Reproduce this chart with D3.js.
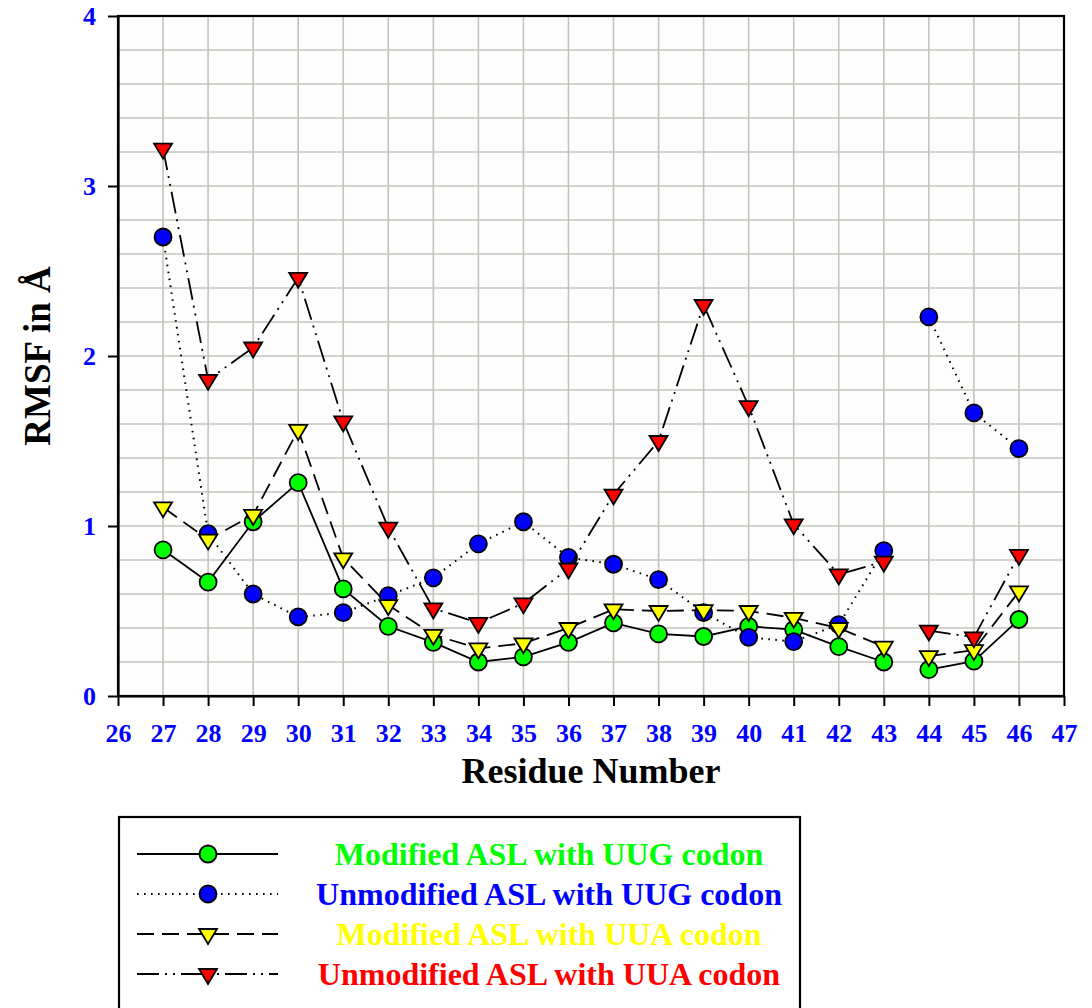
<!DOCTYPE html>
<html>
<head>
<meta charset="utf-8">
<script src="https://cdn.jsdelivr.net/npm/d3@7"></script>
<style>
  body { margin: 0; background: #fff; }
  svg { display: block; }
  text { font-family: "Liberation Serif", "Times New Roman", serif; font-weight: bold; }
</style>
</head>
<body>
<svg id="chart" width="1092" height="1008"></svg>
<script>
// Residue numbers along the x axis
const residues = [27, 28, 29, 30, 31, 32, 33, 34, 35, 36, 37, 38, 39, 40, 41, 42, 43, 44, 45, 46];
// The traces are not joined across this residue gap
const breakAfter = 43;

// RMSF (Å) per residue
const modifiedUUG   = [0.86, 0.67, 1.025, 1.255, 0.63, 0.41, 0.315, 0.20, 0.23, 0.315, 0.43, 0.365, 0.35, 0.41, 0.39, 0.29, 0.20, 0.155, 0.205, 0.45];
const unmodifiedUUG = [2.70, 0.955, 0.60, 0.465, 0.49, 0.59, 0.695, 0.895, 1.025, 0.815, 0.775, 0.685, 0.49, 0.345, 0.32, 0.42, 0.855, 2.23, 1.665, 1.455];
const modifiedUUA   = [1.11, 0.92, 1.065, 1.565, 0.81, 0.535, 0.36, 0.28, 0.31, 0.40, 0.51, 0.50, 0.505, 0.50, 0.46, 0.40, 0.29, 0.235, 0.27, 0.615];
const unmodifiedUUA = [3.22, 1.86, 2.05, 2.46, 1.615, 0.99, 0.515, 0.43, 0.545, 0.75, 1.185, 1.50, 2.30, 1.705, 1.01, 0.715, 0.79, 0.385, 0.345, 0.83];

const seriesNames = [
  "Modified ASL with UUG codon",
  "Unmodified ASL with UUG codon",
  "Modified ASL with UUA codon",
  "Unmodified ASL with UUA codon"
];

const xTicks = [26, 27, 28, 29, 30, 31, 32, 33, 34, 35, 36, 37, 38, 39, 40, 41, 42, 43, 44, 45, 46, 47];
const yTicks = [0, 1, 2, 3, 4];
const yGridStep = 0.2;

const series = [
  { name: seriesNames[0], values: modifiedUUG,   fill: "#00ff00", marker: "circle",   dash: null },
  { name: seriesNames[1], values: unmodifiedUUG, fill: "#0000ff", marker: "circle",   dash: "1.6,5.4" },
  { name: seriesNames[2], values: modifiedUUA,   fill: "#ffff00", marker: "triangle", dash: "17,8" },
  { name: seriesNames[3], values: unmodifiedUUA, fill: "#ff0000", marker: "triangle", dash: "22,6,2,6,2,6" }
];

const svg = d3.select("#chart");
const plot = { left: 118, right: 1064, top: 16, bottom: 696 };

const x = d3.scaleLinear().domain([26, 47]).range([plot.left, plot.right]);
const y = d3.scaleLinear().domain([0, 4]).range([plot.bottom, plot.top]);

// Plot background
svg.append("rect")
  .attr("x", plot.left).attr("y", plot.top)
  .attr("width", plot.right - plot.left).attr("height", plot.bottom - plot.top)
  .attr("fill", "#fdfdfd");

// Grid
const grid = svg.append("g").attr("stroke", "#c4c4bc").attr("stroke-width", 1.6);
grid.selectAll("line.v").data(xTicks.slice(1, -1)).join("line")
  .attr("x1", d => x(d)).attr("x2", d => x(d))
  .attr("y1", plot.top).attr("y2", plot.bottom);
const yGrid = d3.range(1, Math.round(4 / yGridStep)).map(i => i * yGridStep);
grid.selectAll("line.h").data(yGrid).join("line")
  .attr("x1", plot.left).attr("x2", plot.right)
  .attr("y1", d => y(d)).attr("y2", d => y(d));

// Frame
svg.append("rect")
  .attr("x", plot.left).attr("y", plot.top)
  .attr("width", plot.right - plot.left).attr("height", plot.bottom - plot.top)
  .attr("fill", "none").attr("stroke", "#000").attr("stroke-width", 2.2);

// Axes
const xAxis = svg.append("g")
  .attr("transform", `translate(0,${plot.bottom})`)
  .call(d3.axisBottom(x).tickValues(xTicks).tickFormat(d3.format("d")).tickSize(10).tickPadding(18).tickSizeOuter(0));
const yAxis = svg.append("g")
  .attr("transform", `translate(${plot.left},0)`)
  .call(d3.axisLeft(y).tickValues(yTicks).tickFormat(d3.format("d")).tickSize(10).tickPadding(12).tickSizeOuter(0));
[xAxis, yAxis].forEach(a => {
  a.select(".domain").attr("stroke", "#000").attr("stroke-width", 2.2);
  a.selectAll(".tick line").attr("stroke", "#000").attr("stroke-width", 2);
  a.selectAll(".tick text")
    .attr("fill", "#0000ff")
    .style("font-family", '"Liberation Serif", "Times New Roman", serif')
    .style("font-weight", "bold")
    .style("font-size", "26px");
});

// Axis titles
svg.append("text")
  .attr("x", (plot.left + plot.right) / 2).attr("y", 783)
  .attr("text-anchor", "middle").attr("fill", "#000")
  .style("font-size", "36px")
  .text("Residue Number");
svg.append("text")
  .attr("transform", `translate(50,${(plot.top + plot.bottom) / 2}) rotate(-90)`)
  .attr("text-anchor", "middle").attr("fill", "#000")
  .style("font-size", "37px")
  .text("RMSF in Å");

// Markers
const triPath = "M-9,-5L9,-5L0,10Z";
function drawMarker(g, kind, fill) {
  if (kind === "circle") {
    g.append("circle").attr("r", 8.5).attr("fill", fill).attr("stroke", "#000").attr("stroke-width", 1.8);
  } else {
    g.append("path").attr("d", triPath).attr("fill", fill).attr("stroke", "#000").attr("stroke-width", 1.8).attr("stroke-linejoin", "miter");
  }
}

const line = d3.line().x(d => x(d.r)).y(d => y(d.v));

series.forEach(s => {
  const pts = residues.map((r, i) => ({ r, v: s.values[i] }));
  const segments = [pts.filter(p => p.r <= breakAfter), pts.filter(p => p.r > breakAfter)];
  const g = svg.append("g");
  segments.forEach(seg => {
    g.append("path")
      .attr("d", line(seg))
      .attr("fill", "none")
      .attr("stroke", "#000")
      .attr("stroke-width", s.dash === "1.6,5.4" ? 2 : 1.8)
      .attr("stroke-dasharray", s.dash);
  });
  pts.forEach(p => {
    const m = g.append("g").attr("transform", `translate(${x(p.r)},${y(p.v)})`);
    drawMarker(m, s.marker, s.fill);
  });
});

// Legend
const legend = svg.append("g");
legend.append("rect")
  .attr("x", 119).attr("y", 817).attr("width", 681).attr("height", 230)
  .attr("fill", "#fff").attr("stroke", "#000").attr("stroke-width", 2.2);
const rowY = [854, 894, 934, 974];
series.forEach((s, i) => {
  const row = legend.append("g").attr("transform", `translate(0,${rowY[i]})`);
  row.append("line")
    .attr("x1", 137).attr("x2", 278).attr("y1", 0).attr("y2", 0)
    .attr("stroke", "#000").attr("stroke-width", s.dash === "1.6,5.4" ? 2 : 1.8)
    .attr("stroke-dasharray", s.dash);
  const m = row.append("g").attr("transform", "translate(208,0)");
  drawMarker(m, s.marker, s.fill);
  row.append("text")
    .attr("x", 549).attr("y", 11)
    .attr("text-anchor", "middle")
    .attr("fill", s.fill)
    .style("font-size", "32px")
    .text(s.name);
});
</script>
</body>
</html>
